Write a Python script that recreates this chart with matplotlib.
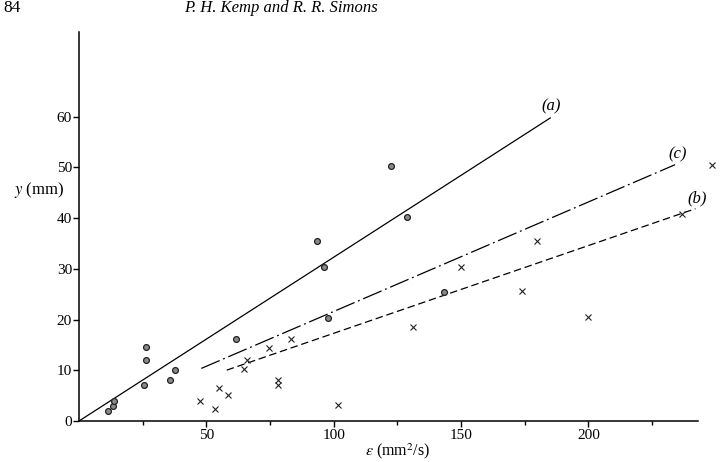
import numpy as np
import matplotlib.pyplot as plt

plt.rcParams['font.family'] = ['Liberation Serif', 'DejaVu Serif']
plt.rcParams['mathtext.fontset'] = 'stix'

# circles (o)
circ_x = [11.3, 13.3, 13.7, 25.5, 26.5, 26.5, 35.7, 37.7, 61.8,
          93.5, 96.1, 97.8, 122.4, 128.9, 143.3]
circ_y = [2.0, 3.0, 4.0, 7.1, 12.0, 14.5, 8.1, 10.1, 16.2,
          35.4, 30.4, 20.3, 50.2, 40.3, 25.4]

# crosses (x)
cross_x = [47.5, 53.5, 54.9, 58.5, 64.6, 66.1, 74.7, 78.2, 78.2, 83.2,
           101.6, 131.1, 149.8, 173.8, 179.9, 200.0, 236.6, 248.4]
cross_y = [4.0, 2.3, 6.6, 5.1, 10.3, 12.0, 14.4, 8.1, 7.2, 16.2,
           3.1, 18.5, 30.4, 25.6, 35.5, 20.5, 40.8, 50.5]

# fitted lines: (label, slope, x start, x end)
line_a = ('(a)', 0.323, 0.0, 185.0)
line_b = ('(b)', 0.173, 58.0, 242.0)
line_c = ('(c)', 0.216, 48.0, 234.0)

fig = plt.figure(figsize=(7.22, 4.62), dpi=100)
ax = fig.add_axes([0.1094, 0.0887, 0.8574, 0.842])

styles = {'(a)': dict(ls='-'),
          '(b)': dict(ls=(0, (6, 3))),
          '(c)': dict(ls=(0, (16, 3, 1.5, 3)))}
lab_pos = {'(a)': (185.5, 62.0), '(b)': (242.5, 43.8), '(c)': (235.0, 52.5)}

for name, k, x0, x1 in (line_a, line_b, line_c):
    xs = np.array([x0, x1])
    ax.plot(xs, k * xs, color='black', lw=0.9, **styles[name])
    ax.text(*lab_pos[name], name, fontsize=12, style='italic',
            ha='center', va='center')

ax.plot(circ_x, circ_y, 'o', ms=4.2, mfc='#8a8a8a', mec='#222222', mew=0.9,
        clip_on=False)
ax.plot(cross_x, cross_y, 'x', ms=4, color='#222222', mew=0.8, clip_on=False)

ax.set_xlim(0, 243)
ax.set_ylim(0, 76.7)
ax.spines['top'].set_visible(False)
ax.spines['right'].set_visible(False)
ax.spines['left'].set_linewidth(1.1)
ax.spines['bottom'].set_linewidth(1.1)

ax.set_xticks([50, 100, 150, 200])
ax.set_xticks([25, 75, 125, 175, 225], minor=True)
ax.set_yticks(range(0, 70, 10))
ax.tick_params(axis='both', labelsize=11, direction='out', width=1, length=4)
ax.tick_params(axis='x', which='minor', length=3, width=1)
ax.tick_params(axis='x', pad=2)
ax.tick_params(axis='y', pad=1)

ax.text(-0.105, 0.594, '$y$ (mm)', transform=ax.transAxes, fontsize=12,
        ha='left', va='center')
ax.text(125, -0.078, r'$\epsilon$ (mm$^2$/s)', transform=ax.get_xaxis_transform(),
        fontsize=11.5, ha='center', va='center')

fig.text(0.004, 0.982, '84', fontsize=12.5, ha='left', va='center')
fig.text(0.389, 0.982, 'P. H. Kemp and R. R. Simons', fontsize=12,
         style='italic', ha='center', va='center')

fig.savefig('out.png', dpi=100)
